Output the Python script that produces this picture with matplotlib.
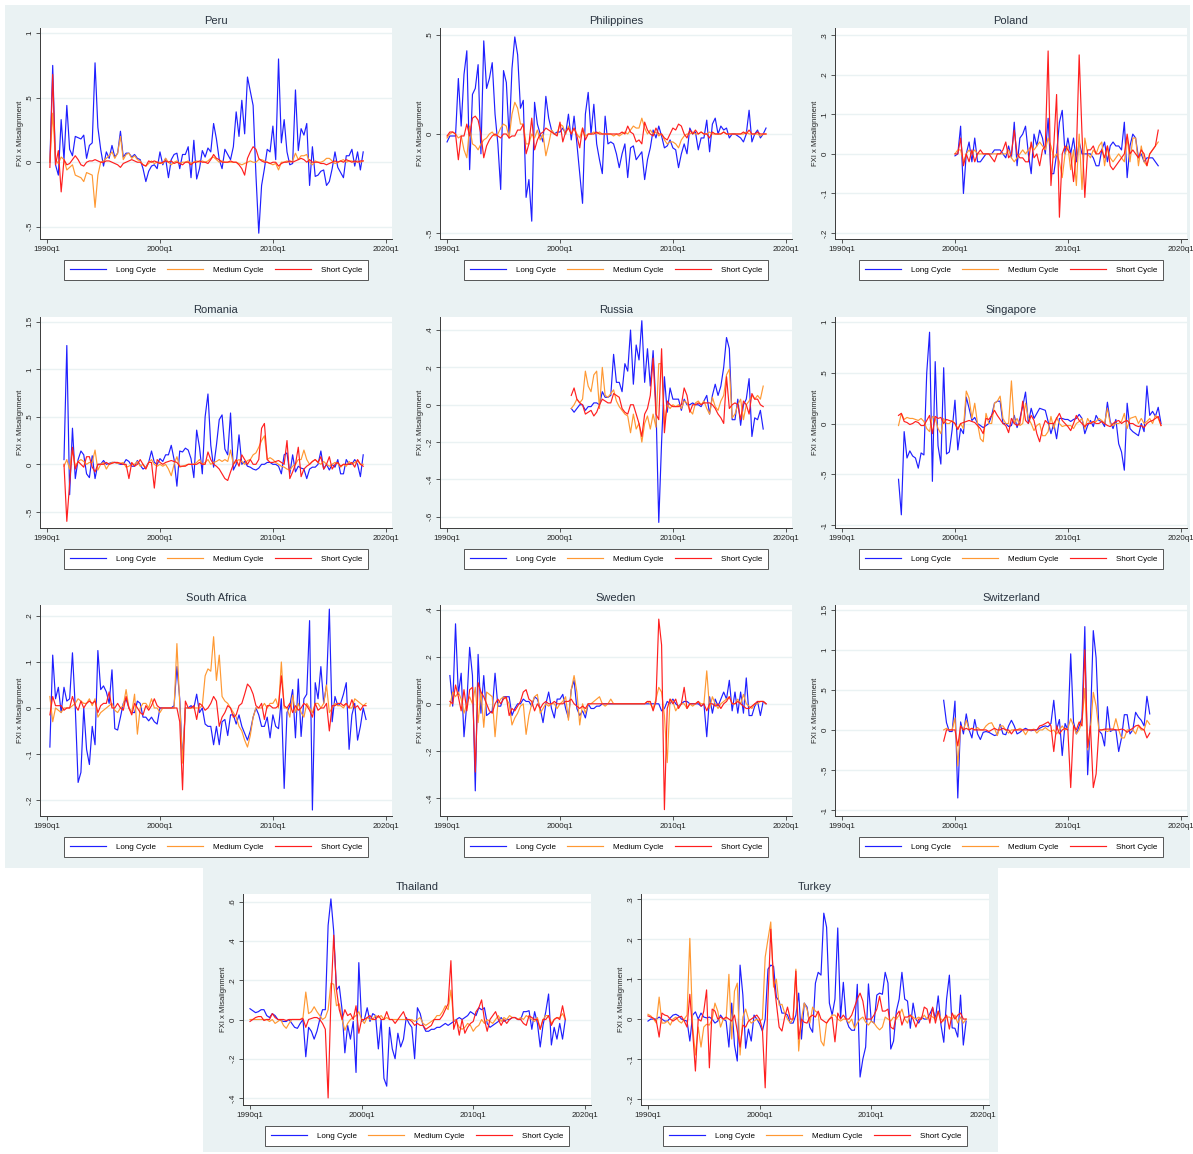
import matplotlib
matplotlib.use("Agg")
import matplotlib.pyplot as plt
from matplotlib.patches import Rectangle

plt.rcParams['font.family'] = ['Liberation Sans', 'DejaVu Sans']

# ---------------- data (quarterly) ----------------
PERU_START = "1990q2"
PERU_LONG = [0, .75, -.02,
             -.1, .33, .02, .44, .1, .05, .2, .19, .18, .21, .03, .13, .15, .77, .27, .1,
             -.03, .08, .03, .13, .04, .07, .24, .04, .07, .07, .04, .06, .03, .02, -.05, -.15,
             -.07, -.03, -.02, -.05, .08, -.02, .03, -.12, .02, .06, .07, -.05, .06, .06, .12, -.12,
             .17, -.13, -.05, .09, .04, .11, .08, .3, .18, .02, -.05, .1, .06, .02, .12, .39,
             .2, .48, .22, .66, .55, .44, -.1, -.55, -.18, -.05, .1, .08, .28, .02, .8, .15,
             .33, .08, -.02, -.01, .56, .09, .26, .21, .3, -.18, .12, -.11, -.1, -.07, -.06, -.18,
             -.15, -.05, .08, -.04, -.08, -.12, .05, .05, .1, -.03, .08, -.06, .08]
PERU_MED = [0, .38, .02,
            -.01, .04, .02, -.06, -.04, -.02, -.1, -.11, -.12, -.15, -.08, -.09, -.1, -.35, -.1, .0,
            .01, .03, .05, .08, .03, .07, .2, .02, .06, .07, .03, .05, .02, .01, -.02, -.03,
            -.01, .01, -.01, .0, .0, -.01, .03, .0, -.02, .0, .01, -.01, .0, .0, .01, -.01,
            .0, .01, .0, .01, .0, .01, .03, .04, .02, .0, .01, .0, .0, .0, .0, .0,
            -.01, -.02, -.01, .0, .01, .0, .0, .02, .02, .01, .0, -.01, -.02, -.01, -.06, .0,
            .0, .01, .0, .01, .07, .02, .05, .05, .06, .0, -.02, .01, .0, .0, .01, .03,
            .03, .01, -.01, .0, .01, .02, .0, .01, .01, .0, .01, .0, .01]
PERU_SHORT = [-.04, .68, -.02,
              .09, -.23, .02, -.02, -.01, .02, .05, .02, -.02, -.03, .0, .01, .01, .02, .01, .0,
              .0, .01, .01, .0, -.01, -.02, -.04, -.01, .0, .01, .02, .01, .0, .0, -.02, -.03,
              .01, .0, .01, .0, -.01, .0, .01, .0, .01, -.01, .0, -.01, -.02, .0, .0, -.02,
              .0, .0, .01, .0, .0, -.01, .02, .06, .03, .02, .0, .0, .0, .01, .0, .0,
              -.02, -.05, -.1, .03, .08, .12, .1, .03, .01, .0, .0, -.01, .0, .0, -.03, -.01,
              .0, .0, .01, .0, .01, .02, .03, .02, .0, .02, .0, .0, .0, -.01, -.01, -.02,
              -.01, .0, .01, .0, .01, .0, .02, .01, .0, .01, .0, .01, .01]

PHIL_START = "1990q1"
PHIL_LONG = [-.04, -.01, -.01, -.01, .28, .04, .3, .42, -.18, .2, .23, .35, -.1, .47, .23, .28,
             .36, .1, -.05, -.28, .32, .26, -.02, .33, .49, .4, .13, .17, -.32, -.23, -.44, .16,
             .05, .0, -.04, .19, .08, .02, .0, .01, .01, .03, .0, .1, -.03, .09, -.05, -.2,
             -.35, .1, .21, .0, .15, -.05, -.13, -.2, .09, -.05, -.04, -.05, -.1, -.17, -.1, -.05,
             -.22, -.07, -.06, -.13, -.11, -.09, -.23, -.13, -.07, .02, -.02, .04, -.01, -.07, -.06, -.03,
             -.07, -.08, -.17, -.1, -.05, -.1, .03, .0, .01, -.08, -.02, -.02, .07, -.09, .05, .08,
             .0, .04, .02, .03, -.02, .0, .0, -.01, -.02, -.04, .0, .12, -.04, .0, .02, -.02,
             .0, .03]
PHIL_MED = [-.02, .0, .01, .0, -.02, -.01, -.08, -.12, .04, -.05, -.06, -.08, -.05, -.03, -.02, .0,
            .01, -.01, .0, .03, .05, .04, -.02, .1, .16, .13, .05, .05, -.05, -.05, .0, -.02,
            .02, -.03, .0, -.11, -.05, .02, .0, .0, .05, .04, .0, .04, .0, .03, .0, -.02,
            .03, -.01, .0, .0, .01, .0, .01, .0, .0, .0, .0, -.01, .0, -.01, .0, .01,
            .0, .02, .04, .03, .03, .08, .03, .0, .02, .0, .01, -.01, .0, -.03, -.05, -.04,
            -.04, -.05, -.07, -.03, -.01, .0, .0, .01, .0, .0, .01, .0, .0, .01, .0, .0,
            .0, .0, .01, .0, .0, .0, .0, .0, .0, .0, .01, .0, .0, .0, .0, -.01,
            .0, .0]
PHIL_SHORT = [-.01, .01, .01, .0, -.13, -.01, -.01, .05, -.01, .08, .09, .07, .0, -.12, -.06, -.03,
              -.01, .0, -.01, -.02, .0, .0, -.02, -.01, -.01, .02, .02, .05, -.1, -.05, .08, -.08,
              -.03, .0, .01, .03, .02, .01, .0, -.01, .06, -.04, .01, .03, .0, .03, -.01, -.07,
              .03, -.03, .0, .0, .0, .01, .0, .0, .0, .0, .0, .0, .0, .0, .01, .0,
              .04, .01, .0, -.04, -.03, -.05, .06, .02, .0, -.01, .03, .0, .0, -.02, -.03, .0,
              .03, .02, .05, .04, .0, -.02, .02, .0, .02, .0, .01, .0, .0, -.02, .01, .0,
              .0, .0, .01, .0, .0, .0, .0, .0, .0, .01, .0, .02, .0, .0, .01, .0,
              .0, .0]

POL_START = "2000q1"
POL_LONG = [-.005, .0, .07, -.1, .0, .03, -.02, .04, -.02, -.02, -.01, .0, .0, .0, .01, .01,
            .01, .0, -.01, .02, -.01, .08, -.03, .04, .05, .07, .0, -.05, .05, .02, .06, .04,
            .0, .09, -.05, -.05, .0, .08, .11, .0, .04, .0, .04, -.02, .03, .0, .0, .0,
            .0, -.01, -.03, -.03, .01, .03, -.02, .02, .03, .02, .02, .01, .08, -.06, .02, .05,
            .04, -.01, .0, -.02, -.01, -.01, -.01, -.02, -.03]
POL_MED = [.0, .01, .01, -.02, .0, .01, .0, .01, .0, .0, .0, .0, .0, .0, .0, .0,
           .0, .0, .0, .01, -.01, -.02, -.01, .0, .01, .0, .01, .02, .01, .02, .03, .02,
           .01, .04, .02, -.01, .0, -.02, -.06, .0, .02, -.04, .01, -.08, .05, -.09, .04, .0,
           -.01, .01, .0, .02, .03, -.03, .02, -.01, -.02, -.01, .0, -.01, -.02, .04, -.02, .04,
           .04, -.03, .02, -.02, -.03, .0, .01, .02, .03]
POL_SHORT = [.0, .0, .04, -.03, .0, -.02, .01, -.02, .0, .01, .0, .0, .0, -.01, -.02, .0,
             .0, .01, .03, -.01, .0, .06, .0, -.01, -.01, -.02, -.02, .03, -.01, .0, -.03, .01,
             .02, .26, -.08, .02, .15, -.16, .0, .02, .01, .0, -.07, .0, .25, .05, -.11, .01,
             .01, .02, .0, .0, .01, -.01, .02, -.03, -.04, -.03, -.02, -.01, .0, .05, .0, .01,
             .0, -.01, .01, .0, -.03, .0, .01, .02, .06]

ROM_START = "1991q3"
ROM_LONG = [.05, 1.25,
            -.32, .38, -.15, .05, .14, .1, -.1, -.14, .09, -.15, .0, .0, .04, .0, .01, .02,
            .02, .01, .0, .0, .05, .03, -.02, -.02, .04, -.01, -.05, -.03, .02, .14, .02, .0,
            .06, .03, .1, .1, .2, .05, -.23, .14, .13, .17, .15, .06, -.14, .36, .18, -.1,
            .5, .74, .2, -.03, .2, .47, .52, .16, .1, .54, -.06, .0, .31, .0, .03, -.02,
            -.03, -.05, -.06, -.04, .0, .0, .02, .02, .0, .0, -.02, -.1, .1, .12, -.1, .1,
            -.08, -.02, -.04, -.05, -.15, -.05, -.03, -.03, .0, .14, -.05, .0, -.06, .0, -.03, .05,
            -.1, -.1, .05, .0, .0, .05, .0, -.13, .1]
ROM_MED = [-.02, .05,
           -.05, .15, -.02, .03, .05, .03, .0, .02, .02, .15, -.06, .0, .02, -.05, .0, .02,
           .02, .01, .01, .02, -.03, -.02, .0, .0, .03, -.02, .0, -.04, .02, .05, .0, -.02,
           .0, -.02, .0, -.05, -.12, .0, .08, -.03, -.02, -.01, .0, .0, .0, .02, .05, .0,
           .02, .05, .0, .02, .03, .05, .03, .05, .03, .15, .0, .03, .05, .03, .0, .04,
           .05, .1, .12, .18, .25, .3, .05, .07, .05, .02, .0, -.02, -.03, -.05, -.06, -.02,
           .0, .05, .05, .15, .05, .0, .03, .05, .02, .0, .03, .0, -.02, .0, .02, .01,
           -.03, .0, -.02, .03, .0, .02, .04, .0, .0]
ROM_SHORT = [.0, -.6,
             -.2, .18, -.05, .03, .0, -.03, .08, .08, -.03, -.08, .0, .0, .0, .02, .0, .01,
             .02, .02, .01, .0, .0, -.15, .02, -.02, .0, .05, .0, -.05, .02, .02, -.25, .05,
             .02, .0, .02, .03, .04, .03, .02, -.02, -.02, -.02, .0, .0, .0, .0, .02, .0,
             .0, .13, .05, .0, -.02, -.05, -.1, -.15, -.17, -.08, .0, .05, -.02, .1, .05, .0,
             .05, .0, .0, .05, .38, .43, .05, .02, .02, .03, .04, .02, .0, .25, -.15, -.08,
             .0, .18, -.13, -.05, -.02, .0, .03, .05, .02, .08, -.05, .0, .08, -.05, .0, .02,
             -.02, .0, .0, .0, .02, -.03, .05, .0, -.02]

RUS_START = "2001q1"
RUS_LONG = [-.02, -.04, -.02, .0, .0, -.03, -.01, -.01, .01, .01, .0, .07, .04, .04, .05, .27,
            .12, .12, .07, .22, .18, .4, .11, .32, .24, .45, .12, .3, .1, .29, .0, -.63,
            -.2, .15, -.04, .09, .03, .03, .03, -.03, .03, .0, .0, .01, .0, .0, -.01, .02,
            .05, -.05, .05, .11, .05, .1, .2, .36, .3, -.08, -.08, .03, -.11, .0, .03, .14,
            -.17, -.07, -.08, -.03, -.13]
RUS_MED = [-.02, .0, .03, .01, .03, .18, .1, .07, .16, .18, -.02, .2, .05, .04, .06, .08,
           .02, -.01, -.03, -.05, -.06, -.15, -.05, -.13, -.1, -.2, -.1, -.06, -.13, -.05, -.12, .22,
           .22, -.1, .0, -.02, .0, -.01, .0, -.02, .02, .01, -.03, -.05, .01, .02, .0, .02,
           -.02, -.05, .04, -.01, -.03, .02, .05, .16, .19, -.07, -.05, .0, .03, -.08, .0, .02,
           .05, .03, .05, .03, .1]
RUS_SHORT = [.05, .09, .03, .01, .0, -.05, -.04, -.03, -.06, -.04, .0, .03, .02, .01, .01, .06,
             .05, .04, -.02, -.04, -.05, .0, .0, -.05, -.1, -.17, -.05, -.02, .05, .25, -.05, -.08,
             .3, -.15, .02, .0, -.01, -.01, -.01, .0, .09, .05, -.04, .0, .0, .01, .0, .01,
             .01, .01, .0, -.02, -.05, -.07, -.1, .15, -.02, .0, .01, .0, -.08, .02, .0, -.05,
             .06, .03, .03, .0, -.01]

SGP_START = "1995q1"
SGP_LONG = [-.55, -.9, -.08, -.34, -.27, -.32, -.34, -.44, -.29, -.31, .5, .9, -.57, .61, -.22, -.4,
            .55, -.3, -.28, -.06, .23, -.26, -.05, -.1, .26, .15, .03, .06, .0, -.02, -.04, -.02,
            .0, .08, .2, .22, .22, .0, .0, -.03, -.02, .08, -.04, .05, .17, .31, .0, .15,
            .05, .1, .15, .14, .13, .02, -.1, .0, -.15, .05, .05, .04, .04, .02, .04, .05,
            .09, .05, -.1, -.02, .03, -.03, .08, .03, .02, -.03, .21, .02, -.05, .04, -.2, -.28,
            -.46, .2, -.05, -.08, -.1, -.12, .0, -.08, .37, .08, .12, .07, .16, .0]
SGP_MED = [-.02, .1, .04, .06, .05, .05, .04, .03, .05, .02, -.05, -.08, .07, .05, -.05, -.1,
           .05, .0, .0, .03, .0, -.05, .0, -.05, .32, .25, .05, .2, .0, -.15, -.18, .1,
           .0, .0, .2, .22, .27, .05, .0, .0, .42, .0, .05, -.02, .0, .2, .05, .0,
           -.07, -.02, .0, -.12, -.12, -.08, .07, -.05, .06, .0, -.03, -.02, -.02, -.02, -.05, .0,
           .02, .05, -.05, .05, .0, .02, .02, .05, .03, .0, .15, .0, -.02, .0, .0, .02,
           .1, -.05, .05, .06, .07, .0, .05, .0, .02, .05, .0, .08, .05, -.02]
SGP_SHORT = [.08, .1, .02, .01, -.01, .0, .02, .01, -.02, -.02, .03, .08, -.1, .07, .05, .06,
             .0, .04, .03, .02, .0, -.06, .0, .01, .02, .03, .02, .01, -.02, -.05, -.1, .05,
             .04, .08, .13, .08, .04, .0, -.02, -.09, .05, .0, -.02, .0, .22, .03, .0, .08,
             .03, -.1, -.18, -.05, .03, .0, .0, .0, .05, .1, .03, .0, -.03, -.07, .0, .08,
             .03, .0, -.03, .0, .0, .02, .0, .0, .02, .0, -.02, -.03, .0, .02, .03, .0,
             .02, .03, .0, .0, -.02, -.03, -.02, -.04, .0, .02, .03, .05, .07, -.02]

ZAF_START = "1990q2"
ZAF_LONG = [-.085, .115, .02,
            .045, -.01, .045, .015, .02, .12, .0, -.162, -.14, .0, -.09, -.123, -.04, -.08, .125, .04,
            .048, .035, .01, .083, -.045, -.048, -.02, .01, .02, .0, -.01, -.01, .015, .01, -.02, -.02,
            -.028, -.02, -.03, -.035, .0, .0, .0, .0, .0, .005, .09, .02, -.115, .0, .0, .005,
            .0, .03, -.01, .0, -.035, -.04, -.04, -.08, -.04, -.08, -.03, -.025, -.06, -.015, -.015, -.035,
            -.015, -.04, -.055, -.07, -.05, -.02, .0, -.015, -.04, -.04, -.02, -.065, -.015, -.04, -.045, .02,
            -.175, -.01, .005, .04, -.065, .063, -.062, .02, .03, .19, -.222, .055, .02, .09, .01, .05,
            .215, -.03, .025, .005, .01, .03, .055, -.09, -.015, .01, -.07, -.04, .0, -.025]
ZAF_MED = [.025, -.03, .0,
           -.005, -.01, .0, .0, .0, .005, .01, .02, .015, .01, .01, .02, .005, .02, -.02, -.01,
           -.005, .0, .005, .01, -.005, -.01, .0, .005, .04, .0, -.01, .03, -.057, .0, .01, .01,
           .0, .02, .0, .0, -.01, .0, .0, .0, .0, .0, .14, .01, -.12, .0, .0, .0,
           .0, .0, .0, .005, .07, .085, .08, .155, .06, .115, .025, .015, .01, .0, -.01, -.02,
           -.04, -.05, -.07, -.085, -.06, -.02, .0, .0, .0, .01, .0, .01, .01, .02, .0, .1,
           .0, .0, -.02, .028, -.01, .01, -.01, -.02, .01, .0, -.01, .01, .01, .0, .01, .05,
           -.01, .0, .01, .005, .005, .0, .01, .0, .0, .02, .015, .01, .005, .01]
ZAF_SHORT = [-.015, .025, .005,
             .005, .005, -.005, .0, .0, .025, .005, -.005, .015, .0, .01, .015, .01, .015, -.01, .005,
             .01, .01, .035, .0, .0, .01, .0, -.005, .025, .0, -.015, .01, .0, -.01, -.015, .005,
             -.005, .005, .02, .005, .0, .0, .0, .0, .0, .0, .0, -.03, -.178, .015, .0, .0,
             .005, -.025, .01, .005, -.005, .0, .01, .025, .015, -.04, -.02, -.01, .005, .0, -.02, -.015,
             .005, .01, .03, .052, .045, .03, .005, .0, .01, -.025, .005, .005, .0, .0, .005, .07,
             .005, .0, .01, -.01, .005, -.005, .0, .01, .005, -.005, -.02, .01, -.005, .0, .0, .01,
             -.05, .005, .005, .01, .01, .005, .01, .0, .018, .0, .005, -.005, .005, .005]

SWE_START = "1990q2"
SWE_LONG = [.12, -.01, .34,
            .04, .13, -.14, .0, .24, .12, -.37, .21, -.04, .12, -.05, -.04, -.03, .13, -.01, -.01,
            .03, .03, .03, -.05, -.02, .0, .0, .02, .01, .01, -.01, .03, .02, -.02, -.08, .0,
            .05, -.02, -.06, .02, .02, .04, -.02, -.06, .06, .1, -.02, -.05, -.03, -.06, .0, -.02,
            -.02, -.01, -.01, .0, .0, .0, .0, .0, .0, .0, .0, .0, .0, .0, .0, .0,
            .0, .0, .0, .0, .0, .0, .0, .0, -.03, -.02, .01, .0, .02, .0, -.01, .0,
            .01, .01, .0, .0, .0, .0, -.01, .0, -.14, .03, -.04, .02, -.01, .02, .05, .02,
            .1, -.03, .05, -.04, .05, -.04, .11, -.05, -.05, -.01, .01, -.05, .01, .0]
SWE_MED = [-.01, .05, .03,
           .05, .02, -.04, .0, .03, .0, .07, -.08, .05, -.1, .05, .04, .03, -.14, .0, .02,
           .03, .02, .0, -.09, -.06, -.04, -.01, .0, -.13, -.05, .0, .03, .04, -.04, -.02, .0,
           -.01, .0, .0, -.02, .0, .01, .03, -.07, .06, .12, .05, -.09, .0, -.04, .0, .0,
           .01, .02, .03, .0, -.01, .0, .02, .0, .0, .0, .0, .0, .0, .0, .0, .0,
           .0, .0, .0, .01, .0, -.02, .02, .07, .05, -.05, -.25, .02, .01, -.03, -.01, .0,
           .0, -.02, .0, -.01, .0, .01, .0, .0, .14, -.02, .03, .0, -.02, .0, .01, .02,
           .03, .0, .0, .02, .0, .04, .0, -.01, -.02, .0, .0, .01, .01, .0]
SWE_SHORT = [.01, .0, .08,
             .03, -.03, .06, -.03, .06, .07, -.29, .09, .05, .03, .0, -.03, -.04, .0, .02, .0,
             .02, .03, -.05, -.02, -.03, -.01, .01, .05, .06, .02, .01, -.03, .0, -.02, .0, .01,
             .0, .0, .01, .0, .0, .0, .01, .01, .02, .0, -.01, -.02, -.01, -.02, .0, .0,
             .0, .0, .0, .0, .0, .0, .0, .0, .0, .0, .0, .0, .0, .0, .0, .0,
             .0, .0, .0, .01, .01, -.03, .01, .36, .25, -.45, -.02, .02, .0, .02, -.02, .0,
             .07, -.02, .0, .0, .0, .01, -.01, .0, -.03, .0, .0, -.01, .0, -.02, .0, .01,
             .03, .0, .0, .01, .0, -.01, -.02, -.02, -.01, .0, .01, .01, .01, .0]

CHE_START = "1999q1"
CHE_LONG = [.37, .09, -.02, -.02, .36, -.85, .1, -.05, .2, .0, -.1, .13, -.05, -.12, -.03, -.02,
            -.03, -.05, -.07, -.06, .07, -.05, -.06, .05, .12, .05, -.05, -.03, .0, .02, .0, -.01,
            .0, .0, .02, .04, .05, .04, .08, .37, .0, .13, -.32, .08, .0, .95, .1, -.05,
            .05, .15, 1.29, -.56, .1, 1.24, .9, -.01, -.05, -.2, .29, -.02, .0, .0, -.27, -.1,
            .19, .19, -.05, .0, .22, .16, .12, .05, .42, .2]
CHE_MED = [.0, .02, .0, .0, .15, -.45, .05, .0, .12, .0, .02, .0, .03, .0, .0, .05,
           .08, .09, .02, -.07, .05, .05, .0, -.04, .0, .0, .0, .02, .0, -.06, .0, .0,
           .01, -.04, .0, .0, .03, .0, -.02, .0, -.05, .0, .05, .0, .02, .14, .05, -.05,
           .0, .1, .52, -.25, .0, .47, .3, .0, .0, .0, -.02, .0, .0, .14, .0, -.1,
           -.1, .0, .0, .0, -.05, .05, .0, .0, .12, .07]
CHE_SHORT = [-.14, .0, .0, .0, .0, -.2, .05, .0, .02, .0, .02, .0, .0, .0, .0, .0,
             -.02, .0, .02, .0, .0, .02, .0, .0, -.05, .0, .0, .0, .0, .0, .0, .0,
             .0, .0, .05, .06, .08, .1, .05, -.27, .05, -.05, .0, .02, .0, -.72, .05, .0,
             .1, .05, 1.0, -.22, .05, -.72, -.55, .0, .0, .01, .01, .01, .01, .0, .0, .01,
             .0, -.03, .0, .02, .05, .06, .02, .0, -.1, -.04]

THA_START = "1990q1"
THA_LONG = [.055, .045, .035, .04, .05, .05, .02, .01, .03, .02, .0, -.005, -.01, -.01, .0, -.02,
            -.04, -.045, -.02, .0, -.19, -.04, -.06, -.1, -.06, .0, .05, .05, .48, .615, .45, .15,
            .17, .05, -.17, -.03, -.1, -.01, -.27, .29, -.01, .0, .06, -.01, .03, .02, -.15, .0,
            -.3, -.34, -.04, -.15, -.2, -.07, -.14, -.1, .01, -.02, -.04, -.2, .06, .03, -.03, -.06,
            -.06, -.05, -.05, -.04, -.04, -.03, -.02, -.03, -.02, -.01, .0, .01, .0, .01, .02, .04,
            .03, .02, .06, .05, .06, -.02, -.04, -.03, -.02, -.01, .01, -.01, .0, .0, .01, .01,
            .0, .0, .04, .04, .045, -.05, .04, -.02, -.14, -.03, .04, .13, -.13, -.04, -.1, -.02,
            -.1, .0]
THA_MED = [.0, .0, .0, .0, .0, .0, .0, -.01, .0, -.02, -.01, .0, -.03, -.045, -.02, .0,
           .0, .0, .0, .01, .14, .03, .04, .065, .04, .02, .0, .01, .05, .185, .18, .07,
           .08, .0, -.055, -.02, .0, .01, .02, .04, .0, -.02, .01, .0, .0, .02, .01, .02,
           .0, .01, .0, .0, .0, .0, .0, .0, .0, .0, .0, -.01, .0, .01, -.02, -.03,
           -.02, -.01, .0, .02, .02, .04, .07, .05, .15, .0, -.01, -.04, -.05, -.04, -.02, -.03,
           -.06, -.04, -.03, .0, -.02, .0, -.01, -.02, .0, .02, -.01, .01, .0, .02, .01, .01,
           .0, .01, .0, .02, .01, .0, -.01, .01, -.05, .0, .02, .02, -.02, .0, .01, .01,
           .03, .0]
THA_SHORT = [-.01, .0, .01, .015, .015, -.005, .0, .0, .03, .01, .0, .0, .0, -.005, .0, .0,
             .0, .0, .0, .005, -.04, .0, .005, .01, .01, .0, -.02, -.05, -.4, .1, .43, .15,
             .05, .0, .05, .02, .03, .0, .07, -.07, .0, .0, .01, .02, .0, .0, .02, .0,
             .0, .04, .0, .0, -.02, .0, .02, .04, .0, .0, -.01, -.03, -.02, -.03, -.03, -.05,
             -.04, -.03, .0, .0, .0, .02, .05, .08, .3, -.05, .0, -.08, .0, -.07, -.04, -.02,
             -.01, .04, .06, .1, .0, -.06, .0, .02, .04, .0, -.03, .0, -.02, .0, .01, .01,
             .0, .0, -.02, -.03, .02, .01, .0, .0, -.05, .0, .0, .02, -.03, .0, .01, .0,
             .07, .0]

TUR_START = "1990q1"
TUR_LONG = [-.005, .0, .0, .0, .005, .0, -.005, -.005, .003, .01, .012, .008, .0, -.003, -.005, -.055,
            .01, .018, .0, .015, .005, .003, .005, .0, -.01, -.005, .01, .0, -.005, -.07, .04, -.065,
            -.105, .135, .06, -.073, -.025, -.055, .01, .0, -.012, -.03, .0, .125, .135, .132, .055, .045,
            .015, .015, .01, -.01, -.01, .01, .065, -.05, .04, .03, -.02, -.033, .09, .117, .11, .265,
            .23, .04, .01, .05, .228, .003, .092, .0, -.02, -.028, -.028, .087, -.145, -.1, -.07, .088,
            -.005, -.01, .06, .065, .062, .117, .09, -.075, -.055, .02, .05, .117, .05, .045, -.023, .04,
            .0, -.01, .005, .0, .0, .013, .028, .0, .058, -.015, -.058, .05, .11, -.022, -.023, -.045,
            .06, -.065, -.005]
TUR_MED = [.012, .008, .0, -.01, .055, -.01, -.01, -.005, -.015, .0, .005, -.005, -.01, .0, .01, .202,
           -.02, -.09, -.02, -.07, -.02, -.013, -.015, .0, .04, .02, -.02, .0, .0, .112, -.05, .07,
           .09, -.09, .005, .025, .0, -.01, -.005, .0, -.005, .0, .155, .2, .243, .08, .1, .035,
           .037, .015, .0, -.01, .0, .125, -.08, .0, .04, .025, -.01, .03, .02, .015, -.055, -.067,
           -.01, .0, .01, .01, .0, -.005, .0, .0, -.01, .0, -.023, -.01, .0, .005, -.008, -.015,
           -.005, -.01, -.02, -.027, -.02, .005, .0, -.005, .005, .0, .01, .025, .0, -.01, .01, .005,
           .0, .005, .0, .01, .0, .01, .005, .0, .02, .0, -.005, .005, .005, .0, .01, -.01,
           .005, -.01, .0]
TUR_SHORT = [.008, .005, .002, -.005, -.045, .015, .01, .008, .0, -.005, .0, .005, .007, -.005, -.02, .062,
             -.03, -.13, .0, -.005, .02, .073, -.122, .025, .02, .0, .005, .0, .005, .0, -.005, .01,
             -.03, -.07, -.015, -.02, -.005, .0, .005, .01, .0, -.025, -.172, .05, .225, .1, .04, -.02,
             -.03, .005, .03, .0, .0, .12, -.05, .0, -.008, -.01, .005, .01, .005, .02, .0, -.005,
             -.01, .0, .005, -.057, .015, .0, .01, .0, .0, .01, .03, .05, .065, .045, .0, .0,
             .0, .01, .025, .057, .02, .02, .025, -.02, -.025, .01, .02, -.015, .005, .005, .01, .0,
             -.02, .0, .0, .03, .025, -.01, .03, -.01, .02, -.01, .0, .01, -.025, .015, .0, .01,
             .015, .0, .0]

COUNTRIES = ["Peru", "Philippines", "Poland", "Romania", "Russia", "Singapore",
             "South Africa", "Sweden", "Switzerland", "Thailand", "Turkey"]
SERIES = {
    "Peru": (PERU_START, PERU_LONG, PERU_MED, PERU_SHORT),
    "Philippines": (PHIL_START, PHIL_LONG, PHIL_MED, PHIL_SHORT),
    "Poland": (POL_START, POL_LONG, POL_MED, POL_SHORT),
    "Romania": (ROM_START, ROM_LONG, ROM_MED, ROM_SHORT),
    "Russia": (RUS_START, RUS_LONG, RUS_MED, RUS_SHORT),
    "Singapore": (SGP_START, SGP_LONG, SGP_MED, SGP_SHORT),
    "South Africa": (ZAF_START, ZAF_LONG, ZAF_MED, ZAF_SHORT),
    "Sweden": (SWE_START, SWE_LONG, SWE_MED, SWE_SHORT),
    "Switzerland": (CHE_START, CHE_LONG, CHE_MED, CHE_SHORT),
    "Thailand": (THA_START, THA_LONG, THA_MED, THA_SHORT),
    "Turkey": (TUR_START, TUR_LONG, TUR_MED, TUR_SHORT),
}
YTICKS = {
    "Peru": [-.5, 0, .5, 1],
    "Philippines": [-.5, 0, .5],
    "Poland": [-.2, -.1, 0, .1, .2, .3],
    "Romania": [-.5, 0, .5, 1, 1.5],
    "Russia": [-.6, -.4, -.2, 0, .2, .4],
    "Singapore": [-1, -.5, 0, .5, 1],
    "South Africa": [-.2, -.1, 0, .1, .2],
    "Sweden": [-.4, -.2, 0, .2, .4],
    "Switzerland": [-1, -.5, 0, .5, 1, 1.5],
    "Thailand": [-.4, -.2, 0, .2, .4, .6],
    "Turkey": [-.2, -.1, 0, .1, .2, .3],
}
YLIMS = {
    "Peru": (-.595, 1.04), "Philippines": (-.53, .535), "Poland": (-.215, .318),
    "Romania": (-.67, 1.55), "Russia": (-.66, .47), "Singapore": (-1.03, 1.05),
    "South Africa": (-.235, .224), "Sweden": (-.477, .42), "Switzerland": (-1.075, 1.56),
    "Thailand": (-.436, .64), "Turkey": (-.215, .313),
}
XTICK_LABELS = ["1990q1", "2000q1", "2010q1", "2020q1"]
LEGEND_LABELS = ["Long Cycle", "Medium Cycle", "Short Cycle"]

# ---------------- style ----------------
BG = "#eaf2f3"
COLORS = ["#1f1fff", "#ff9933", "#ff1f1f"]
AXCOL = "#3a3a3a"
W, H = 1193, 1154


def qidx(label):
    y, q = label.split("q")
    return (int(y) - 1990) * 4 + int(q) - 1


def stata_num(v):
    s = f"{v:g}"
    return s.replace("0.", ".") if abs(v) < 1 and v != 0 else s


fig = plt.figure(figsize=(W / 100, H / 100), dpi=100)
fig.patches.append(Rectangle((5 / W, 1 - 868 / H), 1185 / W, 863 / H,
                             transform=fig.transFigure, facecolor=BG, edgecolor="none", zorder=-5))
fig.patches.append(Rectangle((203 / W, 1 - 1152 / H), 795 / W, 285 / H,
                             transform=fig.transFigure, facecolor=BG, edgecolor="none", zorder=-5))

# axes boxes in pixels: (left, top, width, height)
boxes = []
for off in [0, 289, 577]:
    for left in [40, 440, 835]:
        boxes.append((left, off + 28, 352, 211))
boxes.append((243, 866 + 28, 348, 211))
boxes.append((641, 866 + 28, 348, 211))

for name, (l, t, w, h) in zip(COUNTRIES, boxes):
    ax = fig.add_axes([l / W, 1 - (t + h) / H, w / W, h / H])
    ax.set_facecolor("white")
    start, *vals = SERIES[name]
    s0 = qidx(start)
    handles = []
    for v, c, lab in zip(vals, COLORS, LEGEND_LABELS):
        xs = [s0 + i for i in range(len(v))]
        ln, = ax.plot(xs, v, color=c, lw=0.85, label=lab)
        handles.append(ln)

    ax.set_xlim(-2.5, 122.2)
    ax.set_ylim(*YLIMS[name])
    ax.set_xticks([0, 40, 80, 120])
    ax.set_xticklabels(XTICK_LABELS)
    yt = YTICKS[name]
    ax.set_yticks(yt)
    ax.set_yticklabels([stata_num(v) for v in yt], rotation=90, va="center", ha="right")
    ax.yaxis.grid(True, color=BG, lw=1.0)
    ax.set_axisbelow(True)
    for sp in ["top", "right"]:
        ax.spines[sp].set_visible(False)
    for sp in ["left", "bottom"]:
        ax.spines[sp].set_color(AXCOL)
        ax.spines[sp].set_linewidth(0.7)
    ax.tick_params(direction="out", length=3, width=0.6, color=AXCOL,
                   labelsize=5.8, labelcolor="#222222", pad=1.8)
    ax.set_ylabel("FXI x Misalignment", fontsize=5.5, color="#222222", labelpad=2)

    fig.text((l + w / 2) / W, 1 - (t - 7) / H, name, ha="center", va="center",
             fontsize=8, color="#2a3440")

    lw_frac = 304 / w
    top = -21 / h
    leg = ax.legend(handles=handles, loc="upper left", ncol=3, mode="expand",
                    bbox_to_anchor=((1 - lw_frac) / 2, top - 0.05, lw_frac, 0.05),
                    fontsize=5.8, handlelength=4.5, handletextpad=1.2, borderpad=0.75,
                    fancybox=False, framealpha=1, edgecolor="#555555", borderaxespad=0)
    leg.get_frame().set_linewidth(0.7)

fig.savefig("out.png", dpi=100)
